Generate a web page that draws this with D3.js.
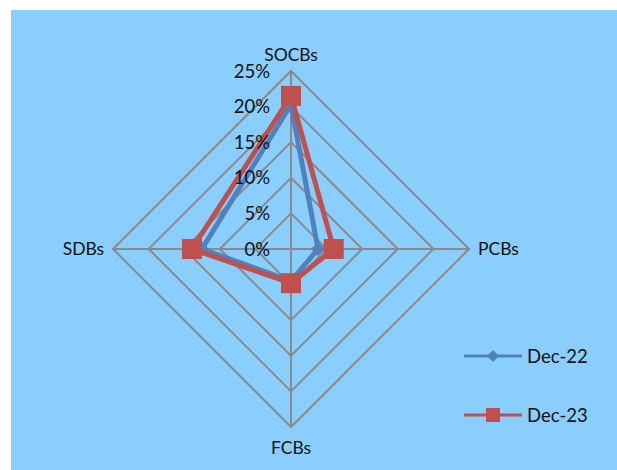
<!DOCTYPE html>
<html>
<head>
<meta charset="utf-8">
<script src="https://cdn.jsdelivr.net/npm/d3@7"></script>
<style>
  html, body { margin: 0; padding: 0; background: #ffffff; }
  svg { display: block; }
  text { font-family: Lato, "Open Sans", sans-serif; fill: #111; }
</style>
</head>
<body>
<svg id="chart" width="617" height="470"></svg>
<script>
// Bank groups around the radar, clockwise from the top
const categories = ["SOCBs", "PCBs", "FCBs", "SDBs"];
// Share (%) for each group
const dec22 = [20.3, 3.8, 4.5, 12.5];
const dec23 = [21.5, 6.0, 4.8, 13.9];
const seriesNames = ["Dec-22", "Dec-23"];
const tickValues = [0, 5, 10, 15, 20, 25];

const W = 617, H = 470;
const cx = 291, cy = 249, R = 178;
const colors = { "Dec-22": "#4F81BD", "Dec-23": "#C0504D" };

const svg = d3.select("#chart");

// Plot background panel
svg.append("rect")
  .attr("x", 11).attr("y", 10)
  .attr("width", W - 11).attr("height", H - 10)
  .attr("fill", "#8ACEFE");

const r = d3.scaleLinear().domain([0, 25]).range([0, R]);
const angle = d3.scalePoint().domain(categories).range([0, 2 * Math.PI * (categories.length - 1) / categories.length]);

const g = svg.append("g").attr("transform", `translate(${cx},${cy})`);
const pt = (cat, v) => {
  const a = angle(cat) - Math.PI / 2;
  return [r(v) * Math.cos(a), r(v) * Math.sin(a)];
};

// Diamond marker: a square turned 45 degrees, given its full width
const diamond = w => `M0,${-w / 2}L${w / 2},0L0,${w / 2}L${-w / 2},0Z`;
const square = w => `M${-w / 2},${-w / 2}h${w}v${w}h${-w}Z`;

// Grid rings
const gridColor = "#8A8A8A";
tickValues.filter(t => t > 0).forEach(t => {
  g.append("path")
    .attr("d", d3.line()(categories.map(c => pt(c, t))) + "Z")
    .attr("fill", "none").attr("stroke", gridColor).attr("stroke-width", 2);
});
// Spokes
categories.forEach(c => {
  const [x, y] = pt(c, 25);
  g.append("line").attr("x1", 0).attr("y1", 0).attr("x2", x).attr("y2", y)
    .attr("stroke", gridColor).attr("stroke-width", 2);
});

// Category labels
const labelPos = {
  "SOCBs": { x: 0, y: -R - 16, anchor: "middle" },
  "PCBs": { x: R + 9, y: 0, anchor: "start" },
  "FCBs": { x: 0, y: R + 21, anchor: "middle" },
  "SDBs": { x: -R - 9, y: 0, anchor: "end" }
};
categories.forEach(c => {
  const p = labelPos[c];
  g.append("text").attr("x", p.x).attr("y", p.y).attr("dy", "0.36em")
    .attr("text-anchor", p.anchor).attr("font-size", 17.5).text(c);
});

// Series
const series = [
  { name: "Dec-22", values: dec22, marker: diamond(14) },
  { name: "Dec-23", values: dec23, marker: square(20) }
];
series.forEach(s => {
  const pts = categories.map((c, i) => pt(c, s.values[i]));
  g.append("path")
    .attr("d", d3.line()(pts) + "Z")
    .attr("fill", "none").attr("stroke", colors[s.name])
    .attr("stroke-width", 5).attr("stroke-linejoin", "miter");
  g.selectAll(null).data(pts).join("path")
    .attr("transform", d => `translate(${d[0]},${d[1]})`)
    .attr("d", s.marker)
    .attr("fill", colors[s.name]);
});

// Radial tick labels along the top spoke, above the series
g.selectAll("text.tick").data(tickValues).join("text")
  .attr("class", "tick")
  .attr("x", -21)
  .attr("y", d => -r(d))
  .attr("dy", "0.36em")
  .attr("text-anchor", "end")
  .attr("font-size", 18.5)
  .text(d => d + "%");

// Legend
const legend = svg.append("g");
const legendY = [356, 415];
seriesNames.forEach((name, i) => {
  const y = legendY[i];
  legend.append("line").attr("x1", 464).attr("x2", 522).attr("y1", y).attr("y2", y)
    .attr("stroke", colors[name]).attr("stroke-width", 3);
  legend.append("path")
    .attr("transform", `translate(493,${y})`)
    .attr("d", i === 0 ? diamond(12) : square(14))
    .attr("fill", colors[name]);
  legend.append("text").attr("x", 527).attr("y", y).attr("dy", "0.36em")
    .attr("font-size", 18.5).text(name);
});
</script>
</body>
</html>
